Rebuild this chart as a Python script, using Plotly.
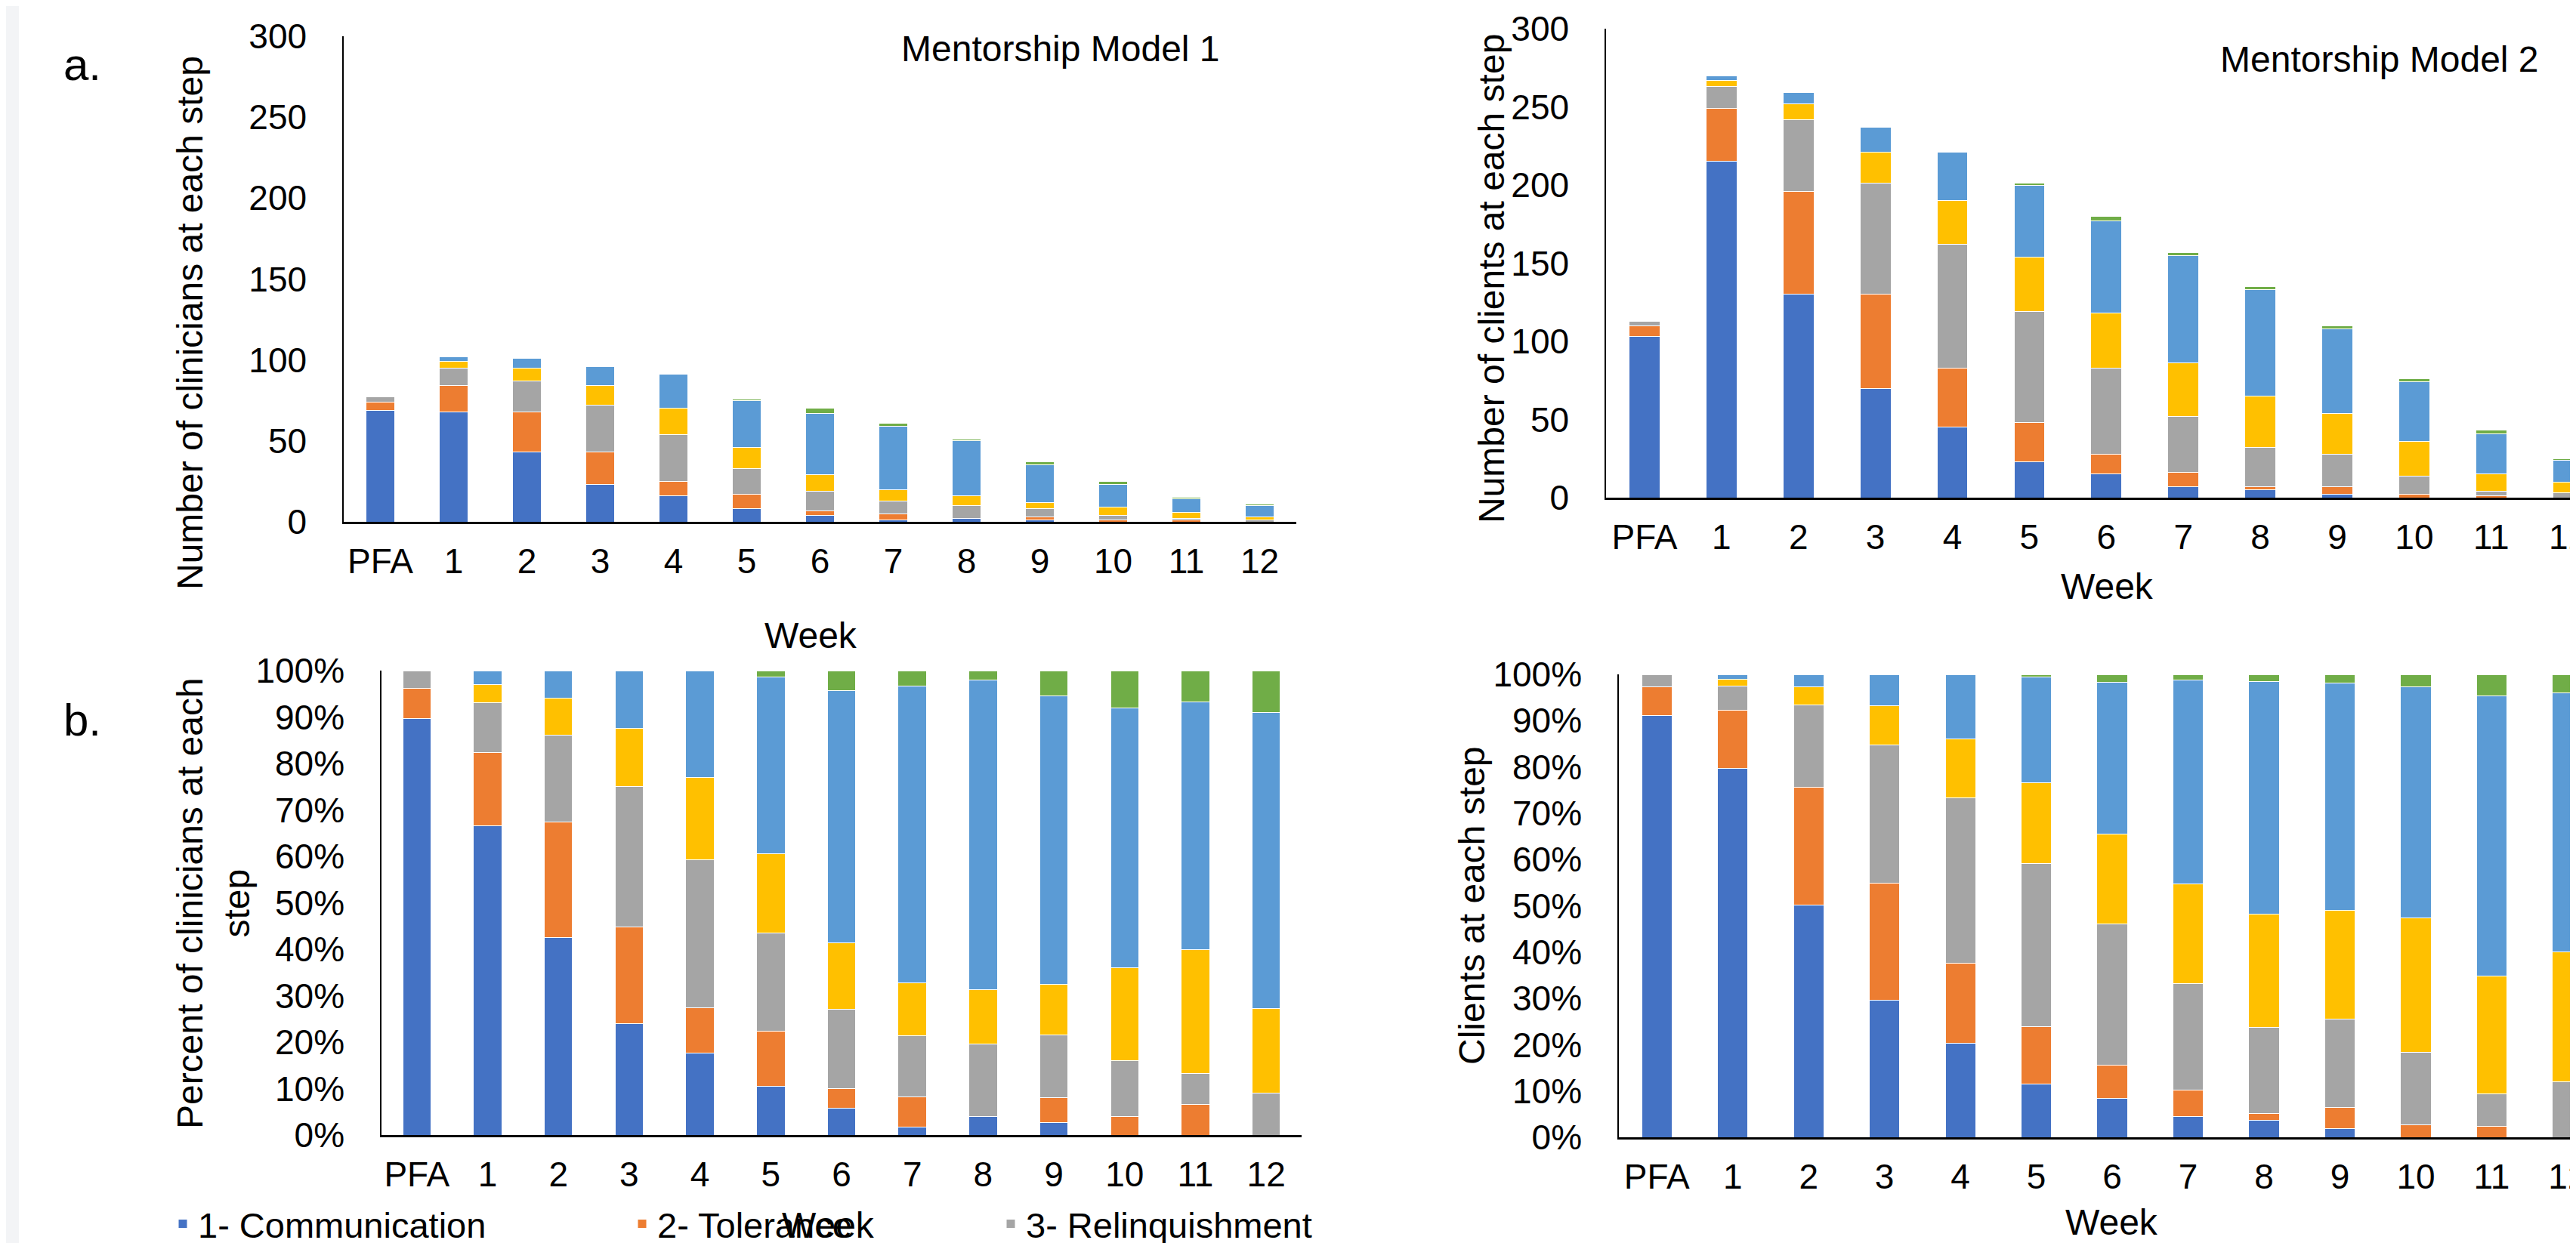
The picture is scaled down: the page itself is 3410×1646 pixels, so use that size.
import plotly.graph_objects as go

# ---------------- data ----------------
weeks = ["PFA", "1", "2", "3", "4", "5", "6", "7", "8", "9", "10", "11", "12"]
step_names = ["1- Communication", "2- Tolerance", "3- Relinquishment",
              "4- Step 4", "5- Step 5", "6- Step 6"]

# Mentorship Model 1 - number of clinicians at each step
m1_communication = [69, 68, 43, 23, 16, 8, 4, 1, 2, 1, 0, 0, 0]
m1_tolerance = [5, 16, 25, 20, 9, 9, 3, 4, 0, 2, 1, 1, 0]
m1_relinquishment = [3, 11, 19, 29, 29, 16, 12, 8, 8, 5, 3, 1, 1]
m1_step4 = [0, 4, 8, 12, 16, 13, 10, 7, 6, 4, 5, 4, 2]
m1_step5 = [0, 3, 6, 12, 21, 29, 38, 39, 34, 23, 14, 8, 7]
m1_step6 = [0, 0, 0, 0, 0, 1, 3, 2, 1, 2, 2, 1, 1]

# Mentorship Model 2 - number of clients at each step
m2_communication = [103, 215, 130, 70, 45, 23, 15, 7, 5, 2, 0, 0, 0]
m2_tolerance = [7, 34, 66, 60, 38, 25, 13, 9, 2, 5, 2, 1, 0]
m2_relinquishment = [3, 14, 46, 71, 79, 71, 55, 36, 25, 21, 12, 3, 3]
m2_step4 = [0, 4, 10, 20, 28, 35, 35, 34, 33, 26, 22, 11, 7]
m2_step5 = [0, 3, 7, 16, 31, 46, 59, 69, 68, 54, 38, 26, 14]
m2_step6 = [0, 0, 0, 0, 0, 1, 3, 2, 2, 2, 2, 2, 1]

count_ticks = [0, 50, 100, 150, 200, 250, 300]
pct_ticks = [0, 0.1, 0.2, 0.3, 0.4, 0.5, 0.6, 0.7, 0.8, 0.9, 1.0]

colors = ["#4472C4", "#ED7D31", "#A5A5A5", "#FFC000", "#5B9BD5", "#70AD47"]

model1 = [m1_communication, m1_tolerance, m1_relinquishment, m1_step4, m1_step5, m1_step6]
model2 = [m2_communication, m2_tolerance, m2_relinquishment, m2_step4, m2_step5, m2_step6]

# ---------------- layout geometry (pixels) ----------------
W, H = 3410, 1646
FONT = "Liberation Sans, Arial, sans-serif"


def px_x(v):
    return v / W


def px_y(v):
    return 1 - v / H


# panel: (x_left, x_right, y_top, y_bottom, x range max)
panels = {
    1: (447, 1708, 40, 683, 12.5),
    2: (2118, 3410, 30, 651, 12.18),
    3: (497, 1715, 880, 1495, 12.5),
    4: (2135, 3410, 885, 1498, 12.19),
}


def pct(series, allseries):
    totals = [sum(col) for col in zip(*allseries)]
    return [v / t if t else 0 for v, t in zip(series, totals)]


fig = go.Figure()
legend_ids = ["legend", "legend2", "legend3"]

for p, model, percent in [(1, model1, False), (2, model2, False), (3, model1, True), (4, model2, True)]:
    for s, series in enumerate(model):
        yvals = pct(series, model) if percent else series
        show = (p == 1 and s < 3)
        fig.add_trace(go.Bar(
            x=weeks, y=yvals, name=step_names[s],
            marker=dict(color=colors[s], line=dict(color="white", width=1)),
            xaxis="x" if p == 1 else f"x{p}",
            yaxis="y" if p == 1 else f"y{p}",
            legendgroup=step_names[s],
            showlegend=show,
            legend=legend_ids[s] if s < 3 else "legend",
            hovertemplate="%{x}: %{y}<extra>" + step_names[s] + "</extra>",
        ))

layout = dict(
    width=W, height=H,
    margin=dict(l=0, r=0, t=0, b=0, autoexpand=False),
    paper_bgcolor="white", plot_bgcolor="white",
    barmode="stack", bargap=0.6,
    font=dict(family=FONT, size=46, color="black"),
)

for p, (xl, xr, yt, yb, xmax) in panels.items():
    xk = "xaxis" if p == 1 else f"xaxis{p}"
    yk = "yaxis" if p == 1 else f"yaxis{p}"
    ya = "y" if p == 1 else f"y{p}"
    xa = "x" if p == 1 else f"x{p}"
    percent = p >= 3
    layout[xk] = dict(
        domain=[px_x(xl), min(px_x(xr), 1.0)], anchor=ya,
        type="category", range=[-0.5, xmax],
        showline=True, linecolor="black", linewidth=2.5,
        showgrid=False, zeroline=False, ticks="",
        ticklabelstandoff=10,
        tickfont=dict(family=FONT, size=46, color="black"),
        fixedrange=True,
    )
    layout[yk] = dict(
        domain=[px_y(yb), px_y(yt)], anchor=xa,
        range=[0, 1] if percent else [0, 300],
        tickvals=pct_ticks if percent else count_ticks,
        tickformat=".0%" if percent else "d",
        showline=True, linecolor="black", linewidth=1.5,
        showgrid=False, zeroline=False, ticks="",
        ticklabelstandoff=38,
        tickfont=dict(family=FONT, size=46, color="black"),
        fixedrange=True,
    )

legend_x_px = [214, 822, 1310]
for lid, lx in zip(legend_ids, legend_x_px):
    layout[lid] = dict(
        x=px_x(lx), y=px_y(1613), xanchor="left", yanchor="middle",
        orientation="h", bgcolor="rgba(0,0,0,0)",
        font=dict(family=FONT, size=47, color="black"),
    )


def ann(text, x, y, size, angle=0):
    return dict(text=text, x=px_x(x), y=px_y(y), xref="paper", yref="paper",
                xanchor="center", yanchor="middle", showarrow=False,
                textangle=angle, font=dict(family=FONT, size=size, color="black"))


layout["annotations"] = [
    ann("a.", 101, 77, 60),
    ann("b.", 101, 945, 60),
    ann("Mentorship Model 1", 1396, 57, 48),
    ann("Mentorship Model 2", 3142, 71, 48),
    ann("Number of clinicians at each step", 243, 420, 48, -90),
    ann("Number of clients at each step", 1967, 361, 48, -90),
    ann("Percent of clinicians at each<br>step", 274, 1188, 48, -90),
    ann("Clients at each step", 1940, 1191, 48, -90),
    ann("Week", 1065, 834, 48),
    ann("Week", 2781, 768, 48),
    ann("Week", 1088, 1614, 48),
    ann("Week", 2787, 1610, 48),
]

layout["shapes"] = [dict(type="rect", xref="paper", yref="paper", x0=0, x1=px_x(17), y0=0, y1=1,
                         fillcolor="#F3F4F6", line=dict(width=0), layer="below")]

fig.update_layout(**layout)
fig.write_html("out.html")
